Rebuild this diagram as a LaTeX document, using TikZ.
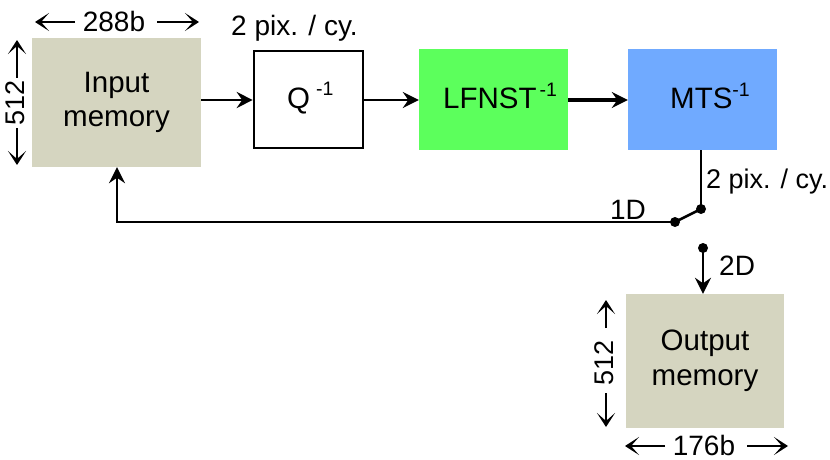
\documentclass[tikz,border=0pt]{standalone}
\usepackage{fontspec}
\setmainfont{Liberation Sans}
\usetikzlibrary{arrows.meta}
\definecolor{memfill}{RGB}{213,213,192}
\definecolor{lfnstfill}{RGB}{92,255,92}
\definecolor{mtsfill}{RGB}{112,170,255}
\newcommand{\supm}[1]{\raisebox{#1}{\fontsize{19.5}{21}\selectfont -1}}
\begin{document}
\begin{tikzpicture}[x=1pt,y=-1pt,
  every node/.style={font=\fontsize{28}{32}\selectfont, inner sep=0pt},
  boxtext/.style={font=\fontsize{29.5}{34.5}\selectfont, align=center},
  conn/.style={line width=2.6pt, -{Stealth[length=16pt,width=16pt,inset=5.5pt]}},
  dimarrow/.style={line width=2.6pt, -{Stealth[length=14pt,width=18pt,inset=8pt]}},
  wire/.style={line width=2.6pt},
  sw/.style={circle, fill=black, minimum size=10pt, inner sep=0pt}
]
\useasboundingbox (0,0) rectangle (830,460);

% blocks
\node[fill=memfill, minimum width=169pt, minimum height=129pt, boxtext] (inmem) at (116.5,102.5) {Input\\memory};
\node[draw, line width=2.6pt, fill=white, minimum width=109pt, minimum height=97pt] (q) at (308.5,99.5) {};
\node[boxtext, anchor=base west] (qtxt) at (287,108) {Q\hspace{6pt}\supm{13pt}};
\node[fill=lfnstfill, minimum width=149pt, minimum height=100pt] (lfnst) at (493.5,99.5) {};
\node[boxtext, anchor=base west] (ltxt) at (443,108) {LFNST\hspace{3pt}\supm{12pt}};
\node[fill=mtsfill, minimum width=149pt, minimum height=101pt] (mts) at (702.5,99.5) {};
\node[boxtext, anchor=base west] (mtxt) at (670,108) {MTS\supm{12pt}};
\node[fill=memfill, minimum width=158pt, minimum height=134pt, boxtext] (outmem) at (705,361) {Output\\memory};

% main arrows
\draw[conn] (inmem.east |- 0,100) -- (q.west |- 0,100);
\draw[conn] (q.east |- 0,100) -- (lfnst.west |- 0,100);
\draw[conn, line width=3.4pt] (lfnst.east |- 0,100) -- (mts.west |- 0,100);

% switch
\node[sw] (s1) at (701,209) {};
\node[sw] (s2) at (675,222) {};
\node[sw] (s3) at (703,248) {};
\coordinate (corner) at (117,222);
\draw[wire] (mts.south -| s1) -- (s1.center);
\draw[wire] (s1.center) -- (s2.center);
\draw[conn] (s2.center) -- (corner) -- (inmem.south -| corner);
\draw[conn] (s3.center) -- (outmem.north -| s3);

% labels
\node[anchor=base west] (pix1) at (231,36) {2 pix. / cy.};
\node[anchor=base west, font=\fontsize{27}{30}\selectfont] (pix2) at (706,188) {2 pix. / cy.};
\node[anchor=base] (one) at (628,219) {1D};
\node[anchor=base west] (two) at (719,275) {2D};

% dimension: input memory
\node[anchor=base] (w1) at (114,32) {288b};
\coordinate (w1la) at (75,22);
\coordinate (w1l) at (35,22);
\coordinate (w1ra) at (157,22);
\coordinate (w1r) at (199,22);
\draw[dimarrow] (w1la) -- (w1l);
\draw[dimarrow] (w1ra) -- (w1r);
\node[rotate=90, font=\fontsize{27}{30}\selectfont] (h1) at (15,103) {512};
\coordinate (h1ta) at (17,78);
\coordinate (h1t) at (17,40);
\coordinate (h1ba) at (17,128);
\coordinate (h1b) at (17,165);
\draw[dimarrow] (h1ta) -- (h1t);
\draw[dimarrow] (h1ba) -- (h1b);

% dimension: output memory
\node[anchor=base] (w2) at (704,455) {176b};
\coordinate (w2la) at (665,446);
\coordinate (w2l) at (625,446);
\coordinate (w2ra) at (747,446);
\coordinate (w2r) at (788,446);
\draw[dimarrow] (w2la) -- (w2l);
\draw[dimarrow] (w2ra) -- (w2r);
\node[rotate=90, font=\fontsize{27}{30}\selectfont] (h2) at (604,363) {512};
\coordinate (h2ta) at (606,328);
\coordinate (h2t) at (606,300);
\coordinate (h2ba) at (606,393);
\coordinate (h2b) at (606,427);
\draw[dimarrow] (h2ta) -- (h2t);
\draw[dimarrow] (h2ba) -- (h2b);
\end{tikzpicture}
\end{document}
